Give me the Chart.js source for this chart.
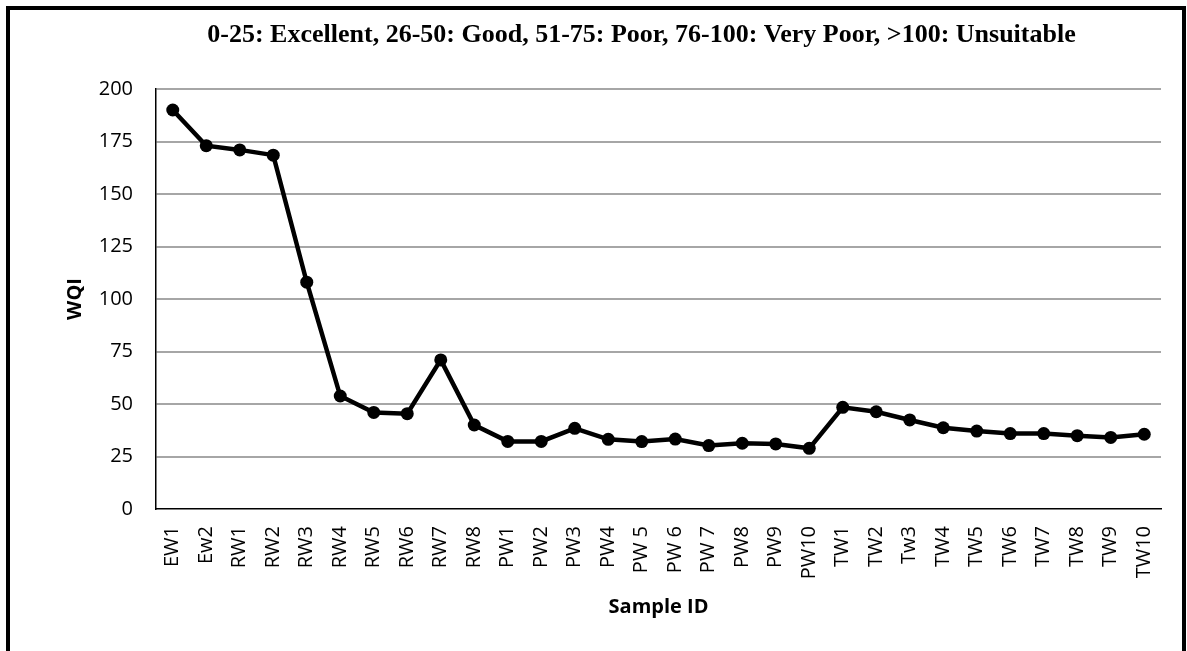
<!DOCTYPE html>
<html>
<head>
<meta charset="utf-8">
<title>WQI by sample</title>
<script src="https://cdn.jsdelivr.net/npm/chart.js@4.4.1/dist/chart.umd.min.js"></script>
<style>
  html, body { margin: 0; padding: 0; background: #fff; overflow: hidden; }
  #wrap { position: relative; width: 1187px; height: 651px; }
  #frame { position: absolute; left: 6px; top: 6px; width: 1180px; height: 700px; border: 4px solid #000; box-sizing: border-box; }
  #wqiChart { position: absolute; left: 0; top: 0; }
</style>
</head>
<body>
<div id="wrap">
  <div id="frame"></div>
  <canvas id="wqiChart" width="1187" height="651"></canvas>
</div>
<script>
// Samples and their water quality index
const sampleIds = [
  "EW1", "Ew2", "RW1", "RW2", "RW3", "RW4", "RW5", "RW6", "RW7", "RW8",
  "PW1", "PW2", "PW3", "PW4", "PW 5", "PW 6", "PW 7", "PW8", "PW9", "PW10",
  "TW1", "TW2", "Tw3", "TW4", "TW5", "TW6", "TW7", "TW8", "TW9", "TW10"
];
const wqiValues = [
  190, 173, 171, 168.5, 108, 53.8, 46, 45.4, 71, 40,
  32.2, 32.2, 38.4, 33.2, 32.1, 33.3, 30.2, 31.3, 31, 28.9,
  48.4, 46.3, 42.4, 38.7, 37.1, 35.9, 35.9, 34.9, 34.1, 35.6
];
const wqiTicks = [0, 25, 50, 75, 100, 125, 150, 175, 200];

const rangeText = "0-25: Excellent, 26-50: Good, 51-75: Poor, 76-100: Very Poor, >100: Unsuitable";

const chartEl = document.getElementById("wqiChart");
const axisFont = { family: "'Open Sans', 'Noto Sans', sans-serif", size: 20 };
const axisTitleFont = { family: "'Open Sans', 'Noto Sans', sans-serif", size: 20, weight: "bold" };

// Class ranges line above the plot
const rangeTitle = {
  id: "rangeTitle",
  afterDraw(chart) {
    const { ctx, chartArea } = chart;
    ctx.save();
    ctx.font = "bold 26px 'Liberation Serif', 'Times New Roman', serif";
    ctx.fillStyle = "#000";
    ctx.textAlign = "center";
    ctx.textBaseline = "alphabetic";
    ctx.fillText(rangeText, (chartArea.left + chartArea.right) / 2 - 17, 42);
    ctx.restore();
  }
};

new Chart(chartEl, {
  type: "line",
  data: {
    labels: sampleIds,
    datasets: [{
      label: "WQI",
      data: wqiValues,
      borderColor: "#000",
      borderWidth: 4.5,
      backgroundColor: "#000",
      pointBackgroundColor: "#000",
      pointBorderWidth: 0,
      pointRadius: 6.5,
      tension: 0,
      fill: false
    }]
  },
  options: {
    responsive: false,
    animation: false,
    devicePixelRatio: 1,
    layout: { padding: { top: 89, right: 26, left: 0, bottom: 0 } },
    plugins: { legend: { display: false }, tooltip: { enabled: false }, title: { display: false } },
    scales: {
      x: {
        offset: true,
        grid: { display: false, drawTicks: false },
        border: { display: true, color: "#000", width: 1.5 },
        ticks: { autoSkip: false, minRotation: 90, maxRotation: 90, padding: 17, color: "#000", font: axisFont },
        title: { display: true, text: "Sample ID", color: "#000", font: axisTitleFont, padding: { top: 0, bottom: 32 } },
        afterFit(scale) { scale.height = 142; }
      },
      y: {
        min: 0,
        max: 200,
        afterBuildTicks(scale) { scale.ticks = wqiTicks.map(v => ({ value: v })); },
        grid: {
          color: c => (c.tick && c.tick.value === 0) ? "rgba(0,0,0,0)" : "#a6a6a6",
          lineWidth: 2,
          drawTicks: false
        },
        border: { display: true, color: "#000", width: 1.5 },
        ticks: { padding: 23, color: "#000", font: axisFont },
        title: { display: true, text: "WQI", color: "#000", font: axisTitleFont, padding: { top: 63, bottom: 0 } },
        afterFit(scale) { scale.width = 156; }
      }
    }
  },
  plugins: [rangeTitle]
});
</script>
</body>
</html>
